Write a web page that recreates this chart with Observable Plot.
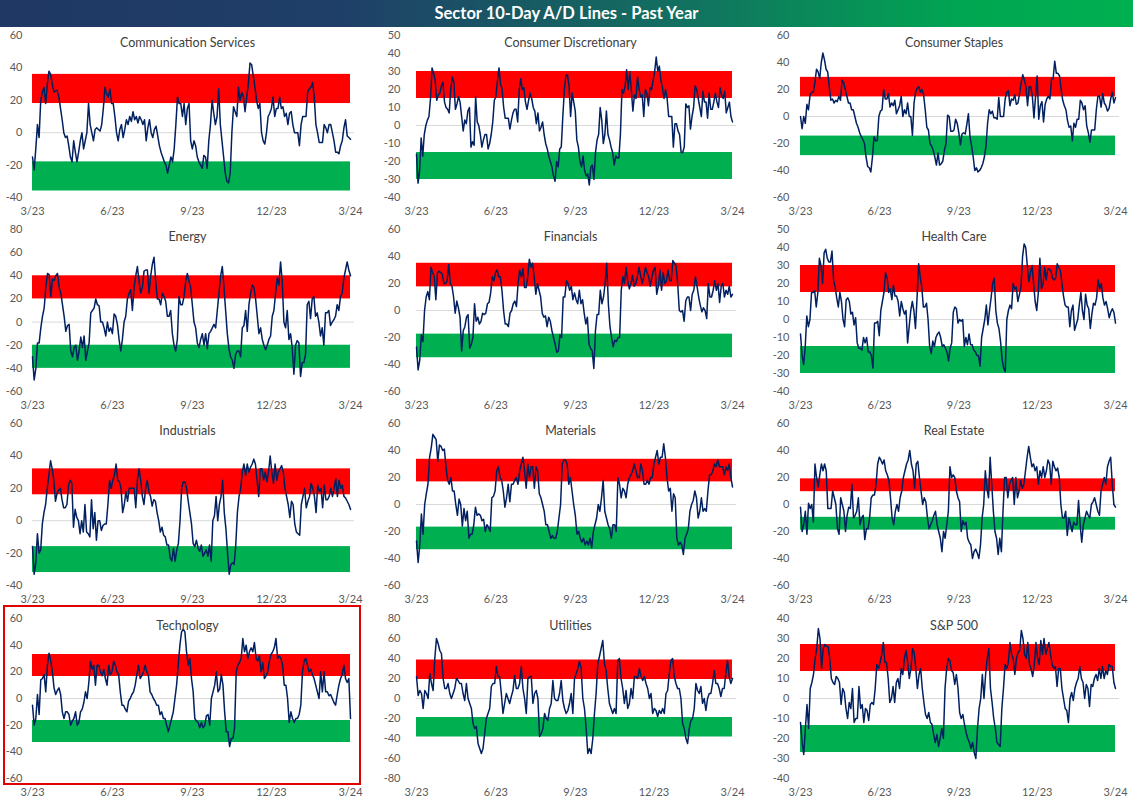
<!DOCTYPE html>
<html><head><meta charset="utf-8">
<script src="https://cdn.jsdelivr.net/npm/d3@7"></script>
<script src="https://cdn.jsdelivr.net/npm/@observablehq/plot@0.6"></script>
<style>
body{margin:0;background:#fff;}
#wrap{position:relative;width:1133px;height:800px;overflow:hidden;background:#fff;font-family:Lato,"Open Sans",sans-serif;}
#title{position:absolute;left:0;top:0;width:1133px;height:27px;background:linear-gradient(90deg,#1f3864 0%,#1f3f68 30%,#127060 60%,#00a652 85%,#00b050 100%);color:#fff;font-weight:700;font-size:16.5px;text-align:center;line-height:27px;}
#hl{position:absolute;left:3px;top:605px;width:358px;height:180px;border:2px solid #e00000;box-sizing:border-box;pointer-events:none;}
</style></head>
<body>
<div id="wrap"><div id="title">Sector 10-Day A/D Lines - Past Year</div></div>
<script>
const sectorNames = ["Communication Services","Consumer Discretionary","Consumer Staples","Energy","Financials","Health Care","Industrials","Materials","Real Estate","Technology","Utilities","S&P 500"];
const yMin = [-40,-40,-60,-60,-60,-40,-40,-60,-60,-60,-80,-40];
const yMax = [60,50,60,80,60,50,60,60,60,60,80,40];
const yStep = [20,10,20,20,20,10,20,20,20,20,20,10];
const bandInner = [18,15,14.5,20,17.5,15,16,16.75,9.5,16.5,19,13.5];
const bandOuter = [36,30,29,40,35,30,32,33.5,19,33,38.5,27];
const tickDates = ["2023-03-01","2023-06-01","2023-09-01","2023-12-01","2024-03-01"];
const tickLabels = ["3/23","6/23","9/23","12/23","3/24"];
const startDate = "2023-03-01", endDate = "2024-03-01";

const commServices = [-15,-23,-10,5,-3,20,25,28,18,30,38,36,30,25,26,26,22,15,8,0,-3,-2,-8,-15,-18,-5,-12,-18,-12,-5,0,-10,-5,0,18,5,0,-5,2,3,2,1,5,15,28,24,22,27,18,18,10,0,-5,2,5,-3,2,8,5,10,7,13,8,10,6,10,8,5,8,-5,3,8,0,-3,2,4,-2,-8,-12,-15,-18,-20,-25,-20,-15,-18,-10,5,22,18,18,10,18,5,15,18,-5,-10,-5,-8,-15,-18,-20,-22,-14,-15,-22,-5,5,20,12,5,10,27,5,-5,-15,-25,-30,-31,-25,0,16,13,10,28,20,25,22,13,22,30,43,42,35,28,20,15,18,0,-5,-7,0,10,12,15,22,10,15,15,22,15,16,10,12,5,12,13,5,0,0,0,-8,5,10,10,10,25,27,28,31,22,5,0,-6,-6,-6,5,3,0,5,5,0,-5,-12,-12,-13,-8,-5,3,8,-2,-3,-4];
const consDisc = [-16,-32,-25,-7,-17,-5,0,3,5,15,32,29,25,14,17,18,22,24,13,10,9,7,20,27,24,9,12,16,13,5,-3,3,1,8,10,-12,-9,-11,16,2,0,-5,-12,-8,-5,-5,-13,-10,-5,2,14,16,25,32,23,20,10,4,4,4,-2,3,7,9,9,2,20,26,20,21,13,9,14,18,15,10,8,1,7,-3,-1,2,-5,-10,-13,-17,-20,-23,-28,-31,-20,-23,-13,-12,5,20,28,28,22,5,18,13,8,-8,-12,-20,-23,-17,-25,-28,-27,-33,-23,-22,-30,-15,-8,-5,10,3,-10,-5,8,-5,-8,-12,-15,-22,-17,-18,-18,-5,20,18,22,31,20,30,20,8,17,15,27,20,16,17,5,20,18,11,21,20,25,30,38,30,33,25,21,15,20,15,5,5,5,-12,1,1,-3,-5,-15,-15,-12,12,10,11,-2,5,10,22,20,15,10,5,19,13,13,4,18,9,9,13,18,13,10,21,17,15,19,7,10,13,5,2];
const consStaples = [0,-9,0,-5,9,5,16,18,18,25,35,33,28,40,47,42,35,33,22,12,13,10,12,11,15,12,27,25,20,15,10,10,5,5,0,-5,-8,-12,-15,-17,-20,-30,-37,-38,-41,-30,-15,-18,-18,0,4,5,20,13,13,17,7,10,8,12,2,5,8,15,0,5,2,10,0,0,-14,10,18,21,22,18,20,16,5,-8,-10,-20,-22,-25,-30,-36,-27,-36,-35,-33,-25,-20,1,0,-11,-11,-10,-2,-5,-12,-21,-13,-12,-13,-6,2,-15,-22,-30,-40,-38,-41,-40,-38,-35,-30,-22,-5,5,2,4,-1,-1,-2,14,0,0,0,13,18,19,8,13,12,16,9,10,17,25,31,27,22,8,22,22,15,-1,15,30,-2,8,11,-4,9,13,15,13,28,28,41,32,32,30,20,12,8,5,-3,-8,-7,-18,-5,-8,-2,-2,12,10,5,8,-7,-12,-19,-10,-10,-10,5,15,15,7,17,10,8,4,6,13,18,10,14];
const energy = [-30,-50,-40,-18,-18,-5,5,12,30,42,41,22,37,36,40,42,30,25,15,5,-8,-3,-2,-25,-30,-22,-20,-33,-25,-13,-22,-12,-33,-25,-18,8,10,12,20,15,14,0,0,-5,-12,0,-8,-5,-10,7,5,-2,-15,-25,-15,0,5,20,25,28,10,30,40,48,35,25,30,44,45,45,25,40,50,56,35,20,20,15,25,22,18,5,5,10,-10,-20,-25,-15,22,15,15,22,35,42,35,30,15,0,-5,-18,-22,-15,-10,-20,-10,-23,-10,-8,-5,-2,-5,10,25,40,48,30,10,-10,-23,-30,-33,-40,-28,-25,-25,-30,-5,-3,10,-8,15,25,32,30,20,5,-10,-5,-15,-20,-24,-20,-15,-12,5,10,25,38,32,52,35,0,-5,10,-15,-10,-22,-45,-20,-16,-18,-47,-35,-35,-28,15,18,3,20,22,5,8,0,-12,-5,-20,8,8,10,-3,0,2,5,15,10,22,25,38,45,52,45,40];
const financials = [-27,-44,-37,-18,-23,0,10,14,8,32,28,25,8,28,29,28,27,20,20,22,34,20,18,10,-2,7,2,-5,-30,-15,-12,-5,-3,-28,-25,-20,5,-8,-5,-10,-8,-2,-3,-2,5,6,13,25,22,28,30,25,25,15,0,-10,-10,-12,-2,0,5,7,3,20,30,25,31,17,17,25,38,32,35,25,12,20,15,10,-2,-5,-4,-12,-5,-8,-15,-20,-25,-31,-30,-18,-20,10,10,22,20,15,18,8,13,8,5,15,5,8,-2,-10,-5,-25,-28,-30,-43,-15,-3,-3,15,5,10,20,35,5,-12,-20,-27,-22,-23,-20,-20,15,25,20,32,22,16,20,26,18,20,25,32,26,20,25,32,28,25,18,25,30,32,12,18,30,15,28,20,22,30,22,22,37,35,33,20,0,-1,0,-8,7,10,10,0,12,15,25,18,10,4,-1,2,0,-6,20,10,10,15,22,15,20,6,18,20,10,15,12,18,10,12];
const healthCare = [-8,-20,-25,-15,2,-4,0,15,15,16,7,15,34,30,20,37,39,34,32,32,38,22,18,12,7,15,10,0,-4,11,12,10,3,4,-3,1,-13,-16,-16,-17,-10,-13,-10,-18,-18,-20,-27,-2,-2,-1,-9,5,10,15,26,23,15,17,11,19,13,13,10,2,10,6,3,5,-13,-4,5,10,5,-5,12,31,24,18,7,7,9,0,-15,-19,-12,-15,-10,-8,-7,-10,-15,-14,-16,-18,-23,-16,-13,4,7,6,-2,0,-1,0,-15,-10,-14,-8,-14,-14,-17,-18,-20,-20,-26,-10,-5,0,8,-3,5,12,20,23,5,-2,-5,-12,-22,-27,-29,0,5,8,6,20,17,18,10,14,18,35,42,40,30,21,26,30,20,10,5,15,34,17,20,29,22,28,28,27,23,22,23,31,29,27,20,13,8,7,7,-4,5,8,-6,-3,0,8,15,5,0,14,8,6,-5,3,9,8,12,22,17,20,12,8,10,6,1,4,6,4,-2];
const industrials = [-16,-33,-26,-8,-20,-18,-2,5,10,20,28,37,32,25,12,17,19,20,13,8,8,10,22,25,23,-4,7,2,0,-8,0,-7,10,-7,-8,-10,13,-5,5,-12,0,0,-6,-3,-2,-2,10,25,20,25,28,35,25,24,20,5,10,18,12,20,20,20,20,8,25,32,25,15,10,20,25,18,15,9,13,12,5,0,-7,-4,-9,-10,-15,-15,-23,-25,-17,-25,-18,-14,0,20,24,24,20,12,5,-2,-14,-16,-12,-17,-19,-15,-22,-20,-18,-22,-15,-25,0,3,15,0,10,15,25,5,-5,-20,-33,-27,-26,-27,-15,5,15,20,30,35,28,35,30,33,35,38,35,25,15,32,32,25,30,24,30,40,30,23,35,25,30,32,34,30,20,15,10,2,12,10,-2,-7,-8,-9,10,15,20,8,12,15,23,20,15,5,22,18,20,8,22,13,13,15,20,15,20,26,15,25,20,22,15,14,12,10,7];
const materials = [-27,-43,-30,-7,-22,0,8,15,35,42,52,50,48,32,44,43,40,41,28,18,15,20,10,10,0,-8,4,0,-16,-3,-12,-5,-25,-22,-22,-15,-2,-8,-7,-8,-12,-11,-20,-15,-17,-20,5,6,10,25,28,20,18,10,-2,5,15,2,15,15,18,20,15,25,30,35,25,12,30,20,28,28,12,28,25,8,5,0,-5,-15,-15,-20,-25,-23,-25,-25,-20,-10,0,30,33,33,30,15,20,10,0,-8,-22,-20,-25,-28,-25,-30,-27,-30,-25,-32,-20,-15,-10,0,-5,5,18,-5,-10,-15,-18,-25,-15,-15,-20,20,15,5,12,10,5,15,20,22,25,30,25,20,20,30,25,15,15,18,15,20,20,30,35,40,30,35,35,45,35,20,10,12,-5,8,5,-25,-30,-28,-30,-37,-25,-22,-18,-5,0,3,10,5,-10,-5,5,-5,-3,-5,10,22,22,25,30,28,33,28,28,28,22,28,25,30,20,13];
const realEstate = [-2,-20,-15,-5,-22,1,-3,0,-13,30,20,13,22,30,25,30,25,-3,-3,-3,10,5,0,-18,-22,5,0,-5,-20,-8,-2,-3,15,-10,-8,-5,5,-15,-10,-8,-26,-18,-18,-10,5,7,7,15,30,35,33,30,33,25,22,18,5,-10,-15,-5,0,-5,5,10,20,25,30,33,40,30,25,12,30,32,20,10,0,5,2,-10,-18,-15,-12,-8,-5,-15,-20,-25,-35,-20,-25,-15,-5,28,20,22,20,10,5,2,-20,-12,-15,-13,-25,-28,-30,-40,-35,-33,-36,-40,-30,-10,0,25,12,5,35,15,-5,-20,-25,-37,-25,-35,-5,20,20,5,15,18,20,0,20,5,10,18,12,15,25,35,43,35,28,30,25,28,15,25,20,28,20,25,33,30,15,32,28,25,27,20,0,-10,-10,-5,-23,-10,-15,-20,-13,-15,-15,3,-15,-28,-15,-10,-5,-8,-10,0,2,5,0,-5,-8,10,15,20,15,28,32,35,15,0,-2];
const technology = [-5,-20,-15,3,-12,14,15,18,5,25,34,28,20,8,3,6,8,3,-10,-15,-10,-10,-12,-20,-17,-15,-10,-20,-18,-10,-8,-3,5,0,12,28,22,25,10,25,25,20,17,22,15,10,25,18,20,28,25,20,18,5,-5,-5,-8,-10,-2,0,3,5,10,18,25,15,17,20,25,20,17,5,3,0,-2,-5,-5,-12,-10,-15,-15,-20,-25,-20,-15,-10,0,10,25,40,50,52,50,35,25,30,15,5,-15,-17,-18,-22,-18,-22,-20,-13,-12,-20,0,5,10,20,5,7,18,10,-10,-25,-25,-36,-30,-30,-22,20,25,27,30,45,35,40,30,35,38,35,42,30,28,32,20,27,15,17,20,28,33,35,38,45,30,32,30,25,10,10,0,-18,-10,-15,-18,-15,-15,-12,-5,20,28,30,25,20,22,18,15,10,5,0,20,5,20,5,5,2,3,0,-3,-5,3,10,15,18,25,15,12,15,-15];
const utilities = [22,3,8,5,-10,8,5,0,25,15,8,40,60,55,48,45,20,10,10,15,5,0,5,10,20,18,15,15,5,-2,15,0,-5,-10,-25,-30,-28,-45,-50,-55,-50,-35,-20,-15,-10,12,15,15,32,22,22,5,-15,-5,5,0,-5,2,8,23,10,10,15,32,10,0,-15,20,22,22,-5,5,8,0,-38,-35,-30,-15,-20,-22,-10,-5,18,0,-2,-2,5,18,-2,-10,-15,-12,-5,5,-15,20,25,30,37,30,0,-10,-30,-55,-50,-55,-40,-15,5,35,42,50,58,35,28,10,-5,-10,-15,-10,-15,38,40,20,10,-5,8,-10,-5,10,0,22,22,20,30,22,18,22,15,10,0,5,-15,-10,-12,-18,-12,-15,-10,-15,5,8,25,38,40,22,15,10,10,0,-25,-30,-40,-45,-30,-22,-20,-10,15,8,5,12,-5,0,-12,0,5,5,15,28,15,15,10,2,10,10,25,38,22,15,20];
const sp500 = [-12,-22,-28,-15,-3,-15,5,8,12,20,25,35,30,15,25,27,26,26,20,10,8,7,11,10,8,-3,5,3,-5,-10,-2,-5,5,-12,-10,-10,6,-5,-3,-12,-5,-6,-11,-3,-2,-3,5,17,15,18,22,28,18,18,10,-2,0,6,-2,8,10,5,15,12,20,24,18,10,15,25,23,15,5,12,15,5,-2,-8,-10,-7,-12,-13,-18,-22,-18,-24,-20,-15,-20,5,15,20,19,14,13,7,12,5,-7,-10,-8,-13,-17,-20,-22,-25,-22,-27,-30,-15,-5,0,12,0,12,20,25,5,-2,-10,-15,-22,-23,-24,-5,5,17,15,18,28,22,20,12,20,23,24,34,30,22,20,28,17,15,11,17,28,20,17,29,22,30,22,25,28,22,17,15,16,6,15,15,5,0,-5,-6,-12,0,3,-1,5,8,10,16,10,8,0,7,5,-4,7,6,10,12,9,15,10,16,10,14,12,17,16,16,8,5];

const seriesValues = [commServices, consDisc, consStaples, energy, financials, healthCare, industrials, materials, realEstate, technology, utilities, sp500];

// layout
const colLeft = [0,378,756], colWidth = [378,378,377];
const colML = [32,38,44], colMR = [28,24,18], colPad = [10,16,11];
const rowTop = [28,222,416,610], rowHeight = [194,194,194,190];
const rowMT = [7,7,7,8], rowMB = [25,25,25,22];

const wrap = document.getElementById("wrap");
const t0 = new Date(startDate + "T00:00:00Z"), t1 = new Date(endDate + "T00:00:00Z");
const xTicks = tickDates.map(s => new Date(s + "T00:00:00Z"));

seriesValues.forEach((vals, i) => {
  const col = i % 3, row = Math.floor(i / 3);
  const n = vals.length;
  const data = vals.map((v, k) => ({date: new Date(+t0 + k * (t1 - t0) / (n - 1)), v}));
  const yTicks = d3.range(yMin[i], yMax[i] + 0.001, yStep[i]);
  const chart = Plot.plot({
    width: colWidth[col], height: rowHeight[row],
    marginLeft: colML[col], marginRight: colMR[col], marginTop: rowMT[row], marginBottom: rowMB[row],
    style: {fontFamily: "Lato, 'Open Sans', sans-serif", fontSize: "11px", color: "#595959", background: "transparent", overflow: "visible"},
    x: {type: "utc", domain: [t0, t1], ticks: xTicks, tickFormat: d => tickLabels[xTicks.findIndex(t => +t === +d)], tickSize: 0, tickPadding: 10, label: null},
    y: {domain: [yMin[i], yMax[i]], ticks: yTicks, tickFormat: d => String(d), tickSize: 0, tickPadding: colPad[col], label: null},
    marks: [
      Plot.rect([{x1: t0, x2: t1, y1: bandInner[i], y2: bandOuter[i]}], {x1: "x1", x2: "x2", y1: "y1", y2: "y2", fill: "#ff0000"}),
      Plot.rect([{x1: t0, x2: t1, y1: -bandOuter[i], y2: -bandInner[i]}], {x1: "x1", x2: "x2", y1: "y1", y2: "y2", fill: "#00b050"}),
      Plot.ruleY([0], {stroke: "#d9d9d9", strokeWidth: 1, insetRight: -4}),
      Plot.lineY(data, {x: "date", y: "v", stroke: "#002060", strokeWidth: 1.5}),
      Plot.text([sectorNames[i]], {frameAnchor: "top", lineAnchor: "middle", dy: 7, dx: -4, fontSize: 12.5, fill: "#404040"})
    ]
  });
  chart.style.position = "absolute";
  chart.style.left = colLeft[col] + "px";
  chart.style.top = rowTop[row] + "px";
  chart.style.maxWidth = "none";
  wrap.appendChild(chart);
});
const hl = document.createElement("div");
hl.id = "hl";
wrap.appendChild(hl);
</script>
</body></html>
